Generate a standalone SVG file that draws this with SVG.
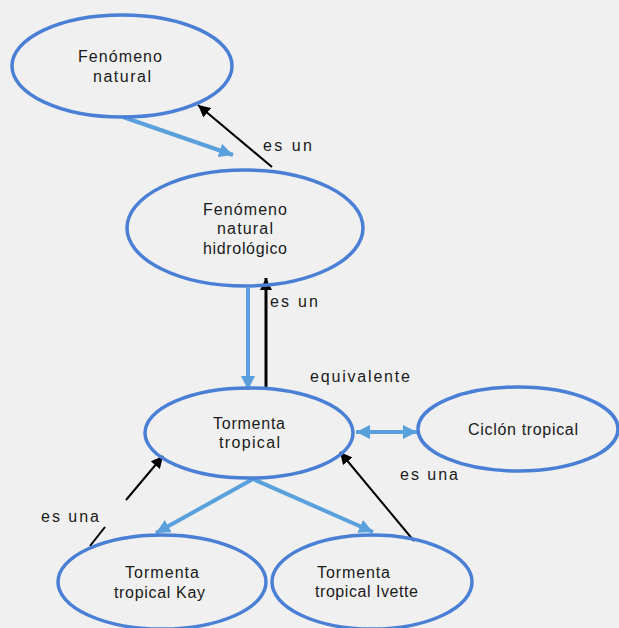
<svg xmlns="http://www.w3.org/2000/svg" width="619" height="628" viewBox="0 0 619 628">
<style>
.bg{fill:#f0f0f0}
.node ellipse{fill:none;stroke:#4a7fd6;stroke-width:3.5}
text{font-family:"Liberation Sans",Arial,sans-serif;font-size:16px;fill:#1a1a1a}
.blue{stroke:#5aa0dc;stroke-width:4;fill:none}
.black{stroke:#000;stroke-width:2;fill:none}
</style>
<defs>
<marker id="bh" markerUnits="userSpaceOnUse" markerWidth="16" markerHeight="14" refX="14" refY="7" orient="auto-start-reverse">
<path d="M0,0 L14,7 L0,14 Z" fill="#5aa0dc"/>
</marker>
<marker id="kh" markerUnits="userSpaceOnUse" markerWidth="14" markerHeight="12" refX="12" refY="6" orient="auto">
<path d="M0,0 L12,6 L0,12 Z" fill="#000"/>
</marker>
</defs>
<rect class="bg" x="0" y="0" width="619" height="628"/>
<g id="connectors">
<line class="blue" x1="123" y1="117" x2="233" y2="155" marker-end="url(#bh)"/>
<line class="black" x1="272" y1="167" x2="198" y2="105" marker-end="url(#kh)"/>
<line class="blue" x1="248" y1="288" x2="248" y2="390" marker-end="url(#bh)"/>
<line class="black" style="stroke-width:3" x1="266" y1="390" x2="266" y2="278" marker-end="url(#kh)"/>
<line class="blue" x1="356" y1="432" x2="417" y2="432" marker-start="url(#bh)" marker-end="url(#bh)"/>
<line class="black" x1="126" y1="500" x2="163" y2="456" marker-end="url(#kh)"/>
<line class="black" x1="90" y1="546" x2="105" y2="527"/>
<line class="blue" x1="253" y1="479" x2="156" y2="533" marker-end="url(#bh)"/>
<line class="blue" x1="253" y1="479" x2="373" y2="532" marker-end="url(#bh)"/>
<line class="black" x1="414" y1="541" x2="340" y2="452" marker-end="url(#kh)"/>
<text x="263" y="151" textLength="49" lengthAdjust="spacing">es un</text>
<text x="270" y="307" textLength="48" lengthAdjust="spacing">es un</text>
<text x="310" y="382" textLength="100" lengthAdjust="spacing">equivalente</text>
<text x="400" y="480" textLength="58" lengthAdjust="spacing">es una</text>
<text x="41" y="522" textLength="58" lengthAdjust="spacing">es una</text>
</g>
<g id="n1" class="node">
<ellipse cx="122" cy="66" rx="110" ry="51"/>
<text x="78" y="62" textLength="84" lengthAdjust="spacing">Fenómeno</text>
<text x="93" y="82" textLength="58" lengthAdjust="spacing">natural</text>
</g>
<g id="n2" class="node">
<ellipse cx="245" cy="228" rx="118" ry="58"/>
<text x="203" y="215" textLength="84" lengthAdjust="spacing">Fenómeno</text>
<text x="217" y="234" textLength="56" lengthAdjust="spacing">natural</text>
<text x="203" y="254" textLength="84" lengthAdjust="spacing">hidrológico</text>
</g>
<g id="n3" class="node">
<ellipse cx="249" cy="433" rx="104" ry="45"/>
<text x="213" y="429" textLength="72" lengthAdjust="spacing">Tormenta</text>
<text x="219" y="448" textLength="61" lengthAdjust="spacing">tropical</text>
</g>
<g id="n4" class="node">
<ellipse cx="518" cy="429" rx="100" ry="42"/>
<text x="468" y="435" textLength="110" lengthAdjust="spacing">Ciclón tropical</text>
</g>
<g id="n5" class="node">
<ellipse cx="162" cy="582" rx="104" ry="47"/>
<text x="125" y="578" textLength="74" lengthAdjust="spacing">Tormenta</text>
<text x="114" y="598" textLength="91" lengthAdjust="spacing">tropical Kay</text>
</g>
<g id="n6" class="node">
<ellipse cx="372" cy="582" rx="100" ry="47"/>
<text x="317" y="578" textLength="73" lengthAdjust="spacing">Tormenta</text>
<text x="315" y="597" textLength="103" lengthAdjust="spacing">tropical Ivette</text>
</g>
</svg>
